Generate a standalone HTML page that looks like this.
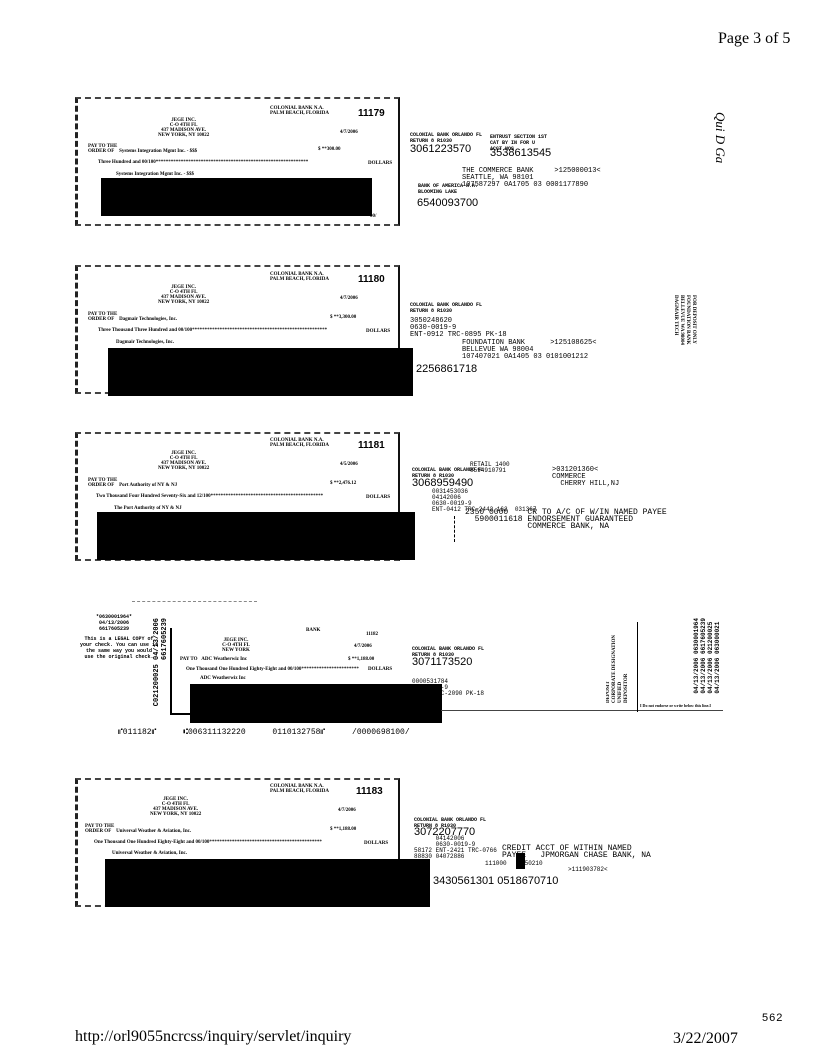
<!DOCTYPE html>
<html><head><meta charset="utf-8"><style>
body{margin:0;width:817px;height:1056px;background:#fff;position:relative;overflow:hidden;font-family:"Liberation Serif",serif;color:#000}
.a{position:absolute;white-space:nowrap}
.chk{position:absolute;left:75px;width:320px;height:125px;border-right:2px solid #111;border-top:2px dashed #444;border-bottom:2px dashed #444;border-left:3px dashed #222}
.s{font-size:5px;font-weight:bold}
.m{font-family:"Liberation Mono",monospace}
.blk{position:absolute;background:#000}
.num{font-size:10px;font-weight:bold;font-family:"Liberation Sans",sans-serif}
.big{font-family:"Liberation Sans",sans-serif;font-size:11px}
</style></head><body>
<div class="a" style="left:718px;top:30px;font-size:16px">Page 3 of 5</div>

<!-- check 1 -->
<div class="chk" style="top:97px"></div>
<div class="a s" style="left:270px;top:106px">COLONIAL BANK N.A.<br>PALM BEACH, FLORIDA</div>
<div class="a num" style="left:358px;top:108px">11179</div>
<div class="a s" style="left:158px;top:118px;text-align:center">JEGE INC.<br>C-O 4TH FL<br>437 MADISON AVE.<br>NEW YORK, NY 10022</div>
<div class="a s" style="left:340px;top:130px">4/7/2006</div>
<div class="a s" style="left:88px;top:144px">PAY TO THE<br>ORDER OF &nbsp;&nbsp; Systems Integration Mgmt Inc. - $$$</div>
<div class="a s" style="left:318px;top:147px">$ **300.00</div>
<div class="a s" style="left:98px;top:160px">Three Hundred and 00/100*************************************************************</div>
<div class="a s" style="left:368px;top:161px">DOLLARS</div>
<div class="a s" style="left:116px;top:172px">Systems Integration Mgmt Inc. - $$$</div>
<div class="blk" style="left:101px;top:178px;width:271px;height:38px"></div>
<div class="a s" style="left:370px;top:214px">00/</div>

<div class="a s m" style="left:410px;top:132px">COLONIAL BANK ORLANDO FL<br>RETURN 8 R1030</div>
<div class="a s m" style="left:490px;top:134px">ENTRUST SECTION 1ST<br>CAT BY IN FOR U<br>ACCT NOS</div>
<div class="a big" style="left:410px;top:143px">3061223570</div>
<div class="a big" style="left:490px;top:147px">3538613545</div>
<div class="a m" style="left:462px;top:168px;font-size:7px;line-height:7px">THE COMMERCE BANK &nbsp;&nbsp;&nbsp; &gt;125000013&lt;<br>SEATTLE, WA 98101<br>107587297 0A1705 03 0001177890</div>
<div class="a s m" style="left:418px;top:183px">BANK OF AMERICA N.A.<br>BLOOMING LAKE</div>
<div class="a big" style="left:417px;top:197px">6540093700</div>
<div class="a" style="left:712px;top:112px;font-size:13px;writing-mode:vertical-rl;font-style:italic">Qui D Ga</div>

<!-- check 2 -->
<div class="chk" style="top:265px"></div>
<div class="a s" style="left:270px;top:272px">COLONIAL BANK N.A.<br>PALM BEACH, FLORIDA</div>
<div class="a num" style="left:358px;top:274px">11180</div>
<div class="a s" style="left:158px;top:285px;text-align:center">JEGE INC.<br>C-O 4TH FL<br>437 MADISON AVE.<br>NEW YORK, NY 10022</div>
<div class="a s" style="left:340px;top:296px">4/7/2006</div>
<div class="a s" style="left:88px;top:312px">PAY TO THE<br>ORDER OF &nbsp;&nbsp; Dagmair Technologies, Inc.</div>
<div class="a s" style="left:330px;top:315px">$ **3,300.00</div>
<div class="a s" style="left:98px;top:328px">Three Thousand Three Hundred and 00/100******************************************************</div>
<div class="a s" style="left:366px;top:329px">DOLLARS</div>
<div class="a s" style="left:116px;top:340px">Dagmair Technologies, Inc.</div>
<div class="blk" style="left:108px;top:348px;width:305px;height:48px"></div>
<div class="a s m" style="left:410px;top:302px">COLONIAL BANK ORLANDO FL<br>RETURN 8 R1030</div>
<div class="a m" style="left:410px;top:318px;font-size:7px;line-height:7px">3050248620<br>0630-0019-9<br>ENT-0912 TRC-0895 PK-18</div>
<div class="a m" style="left:462px;top:340px;font-size:7px;line-height:7px">FOUNDATION BANK &nbsp;&nbsp;&nbsp;&nbsp; &gt;125108625&lt;<br>BELLEVUE WA 98004<br>107407021 0A1405 03 0101001212</div>
<div class="a big" style="left:416px;top:363px">2256861718</div>
<div class="a s" style="left:672px;top:295px;writing-mode:vertical-rl;line-height:6px">FOR DEPOSIT ONLY<br>FOUNDATION BANK<br>BELLEVUE WA 98004<br>DAGMAIR TECH</div>

<!-- check 3 -->
<div class="chk" style="top:432px"></div>
<div class="a s" style="left:270px;top:438px">COLONIAL BANK N.A.<br>PALM BEACH, FLORIDA</div>
<div class="a num" style="left:358px;top:440px">11181</div>
<div class="a s" style="left:158px;top:451px;text-align:center">JEGE INC.<br>C-O 4TH FL<br>437 MADISON AVE.<br>NEW YORK, NY 10022</div>
<div class="a s" style="left:340px;top:462px">4/5/2006</div>
<div class="a s" style="left:88px;top:478px">PAY TO THE<br>ORDER OF &nbsp;&nbsp; Port Authority of NY &amp; NJ</div>
<div class="a s" style="left:330px;top:481px">$ **2,476.12</div>
<div class="a s" style="left:96px;top:494px">Two Thousand Four Hundred Seventy-Six and 12/100*********************************************</div>
<div class="a s" style="left:366px;top:495px">DOLLARS</div>
<div class="a s" style="left:114px;top:506px">The Port Authority of NY &amp; NJ</div>
<div class="blk" style="left:97px;top:512px;width:318px;height:48px"></div>
<div class="a s m" style="left:412px;top:467px">COLONIAL BANK ORLANDO FL<br>RETURN 8 R1030</div>
<div class="a big" style="left:412px;top:477px">3068959490</div>
<div class="a m" style="left:470px;top:462px;font-size:6px;line-height:6px">RETAIL 1400<br>0594910791</div>
<div class="a m" style="left:552px;top:467px;font-size:7px;line-height:7px">&gt;031201360&lt;<br>COMMERCE<br>&nbsp;&nbsp;CHERRY HILL,NJ</div>
<div class="a m" style="left:432px;top:489px;font-size:6px;line-height:6px">0031453036<br>04142006<br>0630-0019-9<br>ENT-0412 TRC-2442 162 &nbsp;031367</div>
<div class="a m" style="left:465px;top:509px;font-size:8px;line-height:7px">2350 0000 &nbsp;&nbsp;&nbsp;CR TO A/C OF W/IN NAMED PAYEE<br>&nbsp;&nbsp;5900011618 ENDORSEMENT GUARANTEED<br>&nbsp;&nbsp;&nbsp;&nbsp;&nbsp;&nbsp;&nbsp;&nbsp;&nbsp;&nbsp;&nbsp;&nbsp;&nbsp;COMMERCE BANK, NA</div>
<div class="a" style="left:454px;top:516px;width:1px;height:26px;border-left:1px dashed #000"></div>

<!-- check 4 substitute -->
<div class="a" style="left:132px;top:601px;width:125px;border-top:1px dashed #888"></div>
<div class="a s m" style="left:96px;top:614px;text-align:center">*0630001964*<br>04/13/2006<br>6617605239</div>
<div class="a s m" style="left:80px;top:636px;text-align:center;font-size:5px">This is a LEGAL COPY of<br>your check. You can use it<br>the same way you would<br>use the original check.</div>
<div class="a s m" style="left:153px;top:618px;writing-mode:vertical-rl;transform:rotate(180deg);font-size:7px;line-height:8px">C021200025 04/13/2006<br>&nbsp;&nbsp;&nbsp;&nbsp;&nbsp;&nbsp;&nbsp;&nbsp;&nbsp;&nbsp;&nbsp;6617605239</div>
<div class="a" style="left:170px;top:628px;width:2px;height:87px;background:#000"></div>
<div class="a" style="left:170px;top:713px;width:20px;height:2px;background:#000"></div>
<div class="a s" style="left:306px;top:628px">BANK</div>
<div class="a s" style="left:366px;top:632px">11182</div>
<div class="a s" style="left:222px;top:638px;text-align:center">JEGE INC.<br>C-O 4TH FL<br>NEW YORK</div>
<div class="a s" style="left:354px;top:644px">4/7/2006</div>
<div class="a s" style="left:180px;top:657px">PAY TO &nbsp;&nbsp;ADC Weatherwiz Inc</div>
<div class="a s" style="left:348px;top:657px">$ **1,188.00</div>
<div class="a s" style="left:186px;top:667px">One Thousand One Hundred Eighty-Eight and 00/100***********************</div>
<div class="a s" style="left:368px;top:667px">DOLLARS</div>
<div class="a s" style="left:200px;top:676px">ADC Weatherwiz Inc</div>
<div class="blk" style="left:190px;top:684px;width:252px;height:39px"></div>
<div class="a m" style="left:118px;top:728px;font-size:8px;word-spacing:22px">⑈011182⑈ ⑆006311132220 0110132758⑈ /0000698100/</div>
<div class="a s m" style="left:412px;top:646px">COLONIAL BANK ORLANDO FL<br>RETURN 8 R1030</div>
<div class="a big" style="left:412px;top:656px">3071173520</div>
<div class="a m" style="left:412px;top:679px;font-size:6px;line-height:6px">0000531784<br>&nbsp;&nbsp;&nbsp;&nbsp;&nbsp;&nbsp;&nbsp;9-9<br>&nbsp;&nbsp;&nbsp;&nbsp;&nbsp;&nbsp;TRC-2090 PK-18</div>
<div class="a" style="left:441px;top:710px;width:282px;height:1px;background:#444"></div>
<div class="a" style="left:637px;top:622px;width:1px;height:90px;background:#000"></div>
<div class="a s" style="left:606px;top:635px;writing-mode:vertical-rl;transform:rotate(180deg);line-height:6px">DEPOSIT<br>CORPORATE DESIGNATION<br>UNIFIED<br>DEPOSITOR</div>
<div class="a s" style="left:640px;top:703px;font-size:4px">I Do not endorse or write below this line.I</div>
<div class="a s m" style="left:693px;top:618px;writing-mode:vertical-rl;transform:rotate(180deg);line-height:7px;font-size:6px">04/13/2006 0630001964<br>04/13/2006 6617605239<br>04/13/2006 021200025<br>04/13/2006 063000021</div>

<!-- check 5 -->
<div class="chk" style="top:778px"></div>
<div class="a s" style="left:270px;top:784px">COLONIAL BANK N.A.<br>PALM BEACH, FLORIDA</div>
<div class="a num" style="left:356px;top:786px">11183</div>
<div class="a s" style="left:150px;top:797px;text-align:center">JEGE INC.<br>C-O 4TH FL<br>437 MADISON AVE.<br>NEW YORK, NY 10022</div>
<div class="a s" style="left:338px;top:808px">4/7/2006</div>
<div class="a s" style="left:85px;top:824px">PAY TO THE<br>ORDER OF &nbsp;&nbsp; Universal Weather &amp; Aviation, Inc.</div>
<div class="a s" style="left:330px;top:827px">$ **1,188.00</div>
<div class="a s" style="left:94px;top:840px">One Thousand One Hundred Eighty-Eight and 00/100*********************************************</div>
<div class="a s" style="left:364px;top:841px">DOLLARS</div>
<div class="a s" style="left:112px;top:851px">Universal Weather &amp; Aviation, Inc.</div>
<div class="blk" style="left:105px;top:859px;width:325px;height:48px"></div>
<div class="a s m" style="left:414px;top:817px">COLONIAL BANK ORLANDO FL<br>RETURN 8 R1030</div>
<div class="a big" style="left:414px;top:826px">3072207770</div>
<div class="a m" style="left:414px;top:836px;font-size:6px;line-height:6px">&nbsp;&nbsp;&nbsp;&nbsp;&nbsp;&nbsp;04142006<br>&nbsp;&nbsp;&nbsp;&nbsp;&nbsp;&nbsp;0630-0019-9<br>58172 ENT-2421 TRC-0766<br>88830 04072886</div>
<div class="a m" style="left:502px;top:845px;font-size:8px;line-height:7px">CREDIT ACCT OF WITHIN NAMED<br>PAYEE &nbsp;&nbsp;JPMORGAN CHASE BANK, NA</div>
<div class="a m" style="left:485px;top:860px;font-size:6px">111000 &nbsp;&nbsp;&nbsp;350210</div>
<div class="a m" style="left:568px;top:866px;font-size:6px">&gt;111903782&lt;</div>
<div class="blk" style="left:516px;top:853px;width:9px;height:16px"></div>
<div class="a big" style="left:433px;top:875px">3430561301 0518670710</div>

<!-- footer -->
<div class="a" style="left:75px;top:1028px;font-size:16px">http://orl9055ncrcss/inquiry/servlet/inquiry</div>
<div class="a" style="left:673px;top:1030px;font-size:16px">3/22/2007</div>
<div class="a" style="left:762px;top:1012px;font-size:11px;font-family:'Liberation Sans',sans-serif;letter-spacing:1px">562</div>
</body></html>
